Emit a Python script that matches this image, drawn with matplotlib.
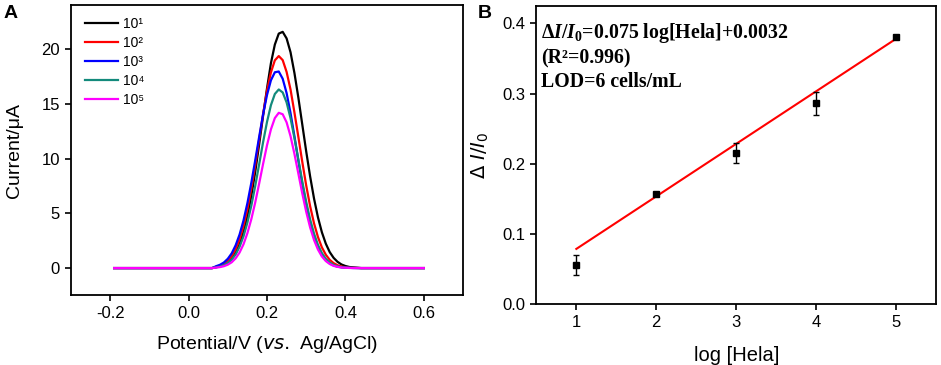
import matplotlib
matplotlib.use("Agg")
import matplotlib.pyplot as plt
import numpy as np

plt.rcParams['font.family'] = ['Liberation Sans', 'DejaVu Sans']
plt.rcParams['mathtext.fontset'] = 'custom'
plt.rcParams['mathtext.rm'] = 'Liberation Serif:bold'
plt.rcParams['mathtext.it'] = 'Liberation Serif:italic:bold'
plt.rcParams['mathtext.bf'] = 'Liberation Serif:bold'

# ---- panel A: DPV curves ----
potential = np.concatenate(([-0.19, 0.06], np.round(np.arange(0.07, 0.425, 0.01), 2), [0.44, 0.60]))

cur_1e1 = [0, 0, 0.08, 0.16, 0.29, 0.51, 0.86, 1.40, 2.19, 3.29, 4.75, 6.6, 8.8, 11.3, 13.9, 16.4, 18.7,
           20.4, 21.4, 21.56, 20.96, 19.7, 17.8, 15.55, 13.1, 10.65, 8.37, 6.34, 4.63, 3.27, 2.23,
           1.46, 0.93, 0.57, 0.33, 0.19, 0.10, 0.06, 0, 0]
cur_1e2 = [0, 0, 0.12, 0.21, 0.38, 0.66, 1.09, 1.72, 2.62, 3.83, 5.38, 7.26, 9.42, 11.74, 14.05, 16.2,
           17.86, 18.96, 19.35, 18.98, 17.9, 16.3, 14.2, 11.97, 9.69, 7.54, 5.65, 4.08, 2.83, 1.89,
           1.22, 0.75, 0.45, 0.26, 0.14, 0.07, 0.03, 0.02, 0, 0]
cur_1e3 = [0, 0, 0.17, 0.30, 0.51, 0.85, 1.35, 2.08, 3.06, 4.34, 5.93, 7.79, 9.85, 11.98, 14.03, 15.8,
           17.14, 17.87, 17.94, 17.28, 15.97, 14.15, 12.03, 9.81, 7.67, 5.76, 4.14, 2.86, 1.89, 1.20,
           0.73, 0.43, 0.24, 0.13, 0.07, 0.03, 0.02, 0.01, 0, 0]
cur_1e4 = [0, 0, 0.07, 0.14, 0.26, 0.46, 0.77, 1.25, 1.95, 2.90, 4.16, 5.70, 7.51, 9.48, 11.49, 13.34,
           14.87, 15.89, 16.3, 16.03, 15.12, 13.68, 11.87, 9.89, 7.90, 6.05, 4.44, 3.14, 2.12, 1.37,
           0.85, 0.51, 0.29, 0.16, 0.08, 0.04, 0.02, 0.01, 0, 0]
cur_1e5 = [0, 0, 0.04, 0.09, 0.17, 0.31, 0.53, 0.89, 1.42, 2.17, 3.19, 4.47, 6.0, 7.72, 9.51, 11.21,
           12.66, 13.69, 14.17, 14.04, 13.3, 12.04, 10.42, 8.62, 6.81, 5.14, 3.71, 2.56, 1.69, 1.06,
           0.64, 0.37, 0.20, 0.11, 0.05, 0.03, 0.01, 0.0, 0, 0]
curve_labels = ['10¹', '10²', '10³', '10⁴', '10⁵']
curve_colors = ['black', '#ff0000', '#0000ff', '#138a7c', '#ff00ff']

# ---- panel B: calibration ----
log_hela = [1, 2, 3, 4, 5]
ratio = [0.055, 0.157, 0.215, 0.286, 0.381]
ratio_err = [0.014, 0.003, 0.014, 0.016, 0.003]
slope, intercept = 0.075, 0.0032

fig = plt.figure(figsize=(9.41, 3.65), dpi=100)
axA = fig.add_axes([0.0755, 0.192, 0.4165, 0.794])
axB = fig.add_axes([0.570, 0.168, 0.4247, 0.8156])

for cur, lab, col in zip([cur_1e1, cur_1e2, cur_1e3, cur_1e4, cur_1e5], curve_labels, curve_colors):
    axA.plot(potential, cur, color=col, lw=1.6, label=lab)
axA.set_xlim(-0.3, 0.7)
axA.set_ylim(-2.45, 24)
axA.set_xticks([-0.2, 0.0, 0.2, 0.4, 0.6])
axA.set_xticklabels(['-0.2', '0.0', '0.2', '0.4', '0.6'])
axA.set_yticks([0, 5, 10, 15, 20])
axA.set_xlabel(r'Potential/V ($vs.$ Ag/AgCl)', fontsize=14, math_fontfamily='dejavusans', labelpad=9)
axA.set_ylabel('Current/μA', fontsize=14, labelpad=13)
axA.legend(loc='upper left', bbox_to_anchor=(0.036, 0.96), frameon=False, fontsize=10,
           handlelength=2.4, handletextpad=0.3, labelspacing=0.36, borderpad=0, borderaxespad=0)

axB.errorbar(log_hela, ratio, yerr=ratio_err, fmt='s', color='black', ms=4.5, capsize=2.5,
             elinewidth=1, capthick=1, zorder=3)
fit_x = np.array([log_hela[0], log_hela[-1]])
axB.plot(fit_x, slope * fit_x + intercept, color='#ff0000', lw=1.5, zorder=2)
axB.set_xlim(0.5, 5.5)
axB.set_ylim(0, 0.425)
axB.set_xticks([1, 2, 3, 4, 5])
axB.set_yticks([0.0, 0.1, 0.2, 0.3, 0.4])
axB.set_yticklabels(['0.0', '0.1', '0.2', '0.3', '0.4'])
axB.set_xlabel('log [Hela]', fontsize=14.5, labelpad=12)
axB.set_ylabel(r'$\Delta\ I/I_0$', fontsize=14, math_fontfamily='dejavusans', labelpad=8)

eq_kw = dict(transform=axB.transAxes, fontfamily='Liberation Serif', fontweight='bold',
             fontsize=14.3, va='baseline', ha='left')
axB.text(0.012, 0.892, r'$\Delta I/I_0$=0.075 log[Hela]+0.0032', **eq_kw)
axB.text(0.012, 0.808, '(R²=0.996)', **eq_kw)
axB.text(0.012, 0.728, 'LOD=6 cells/mL', **eq_kw)

for ax in (axA, axB):
    for sp in ax.spines.values():
        sp.set_linewidth(1.3)
    ax.tick_params(direction='out', length=4, width=1.2, labelsize=12, pad=4)

fig.text(0.004, 0.985, 'A', fontsize=14, fontweight='bold', va='top')
fig.text(0.508, 0.985, 'B', fontsize=14, fontweight='bold', va='top')

fig.savefig('out.png', dpi=100)
